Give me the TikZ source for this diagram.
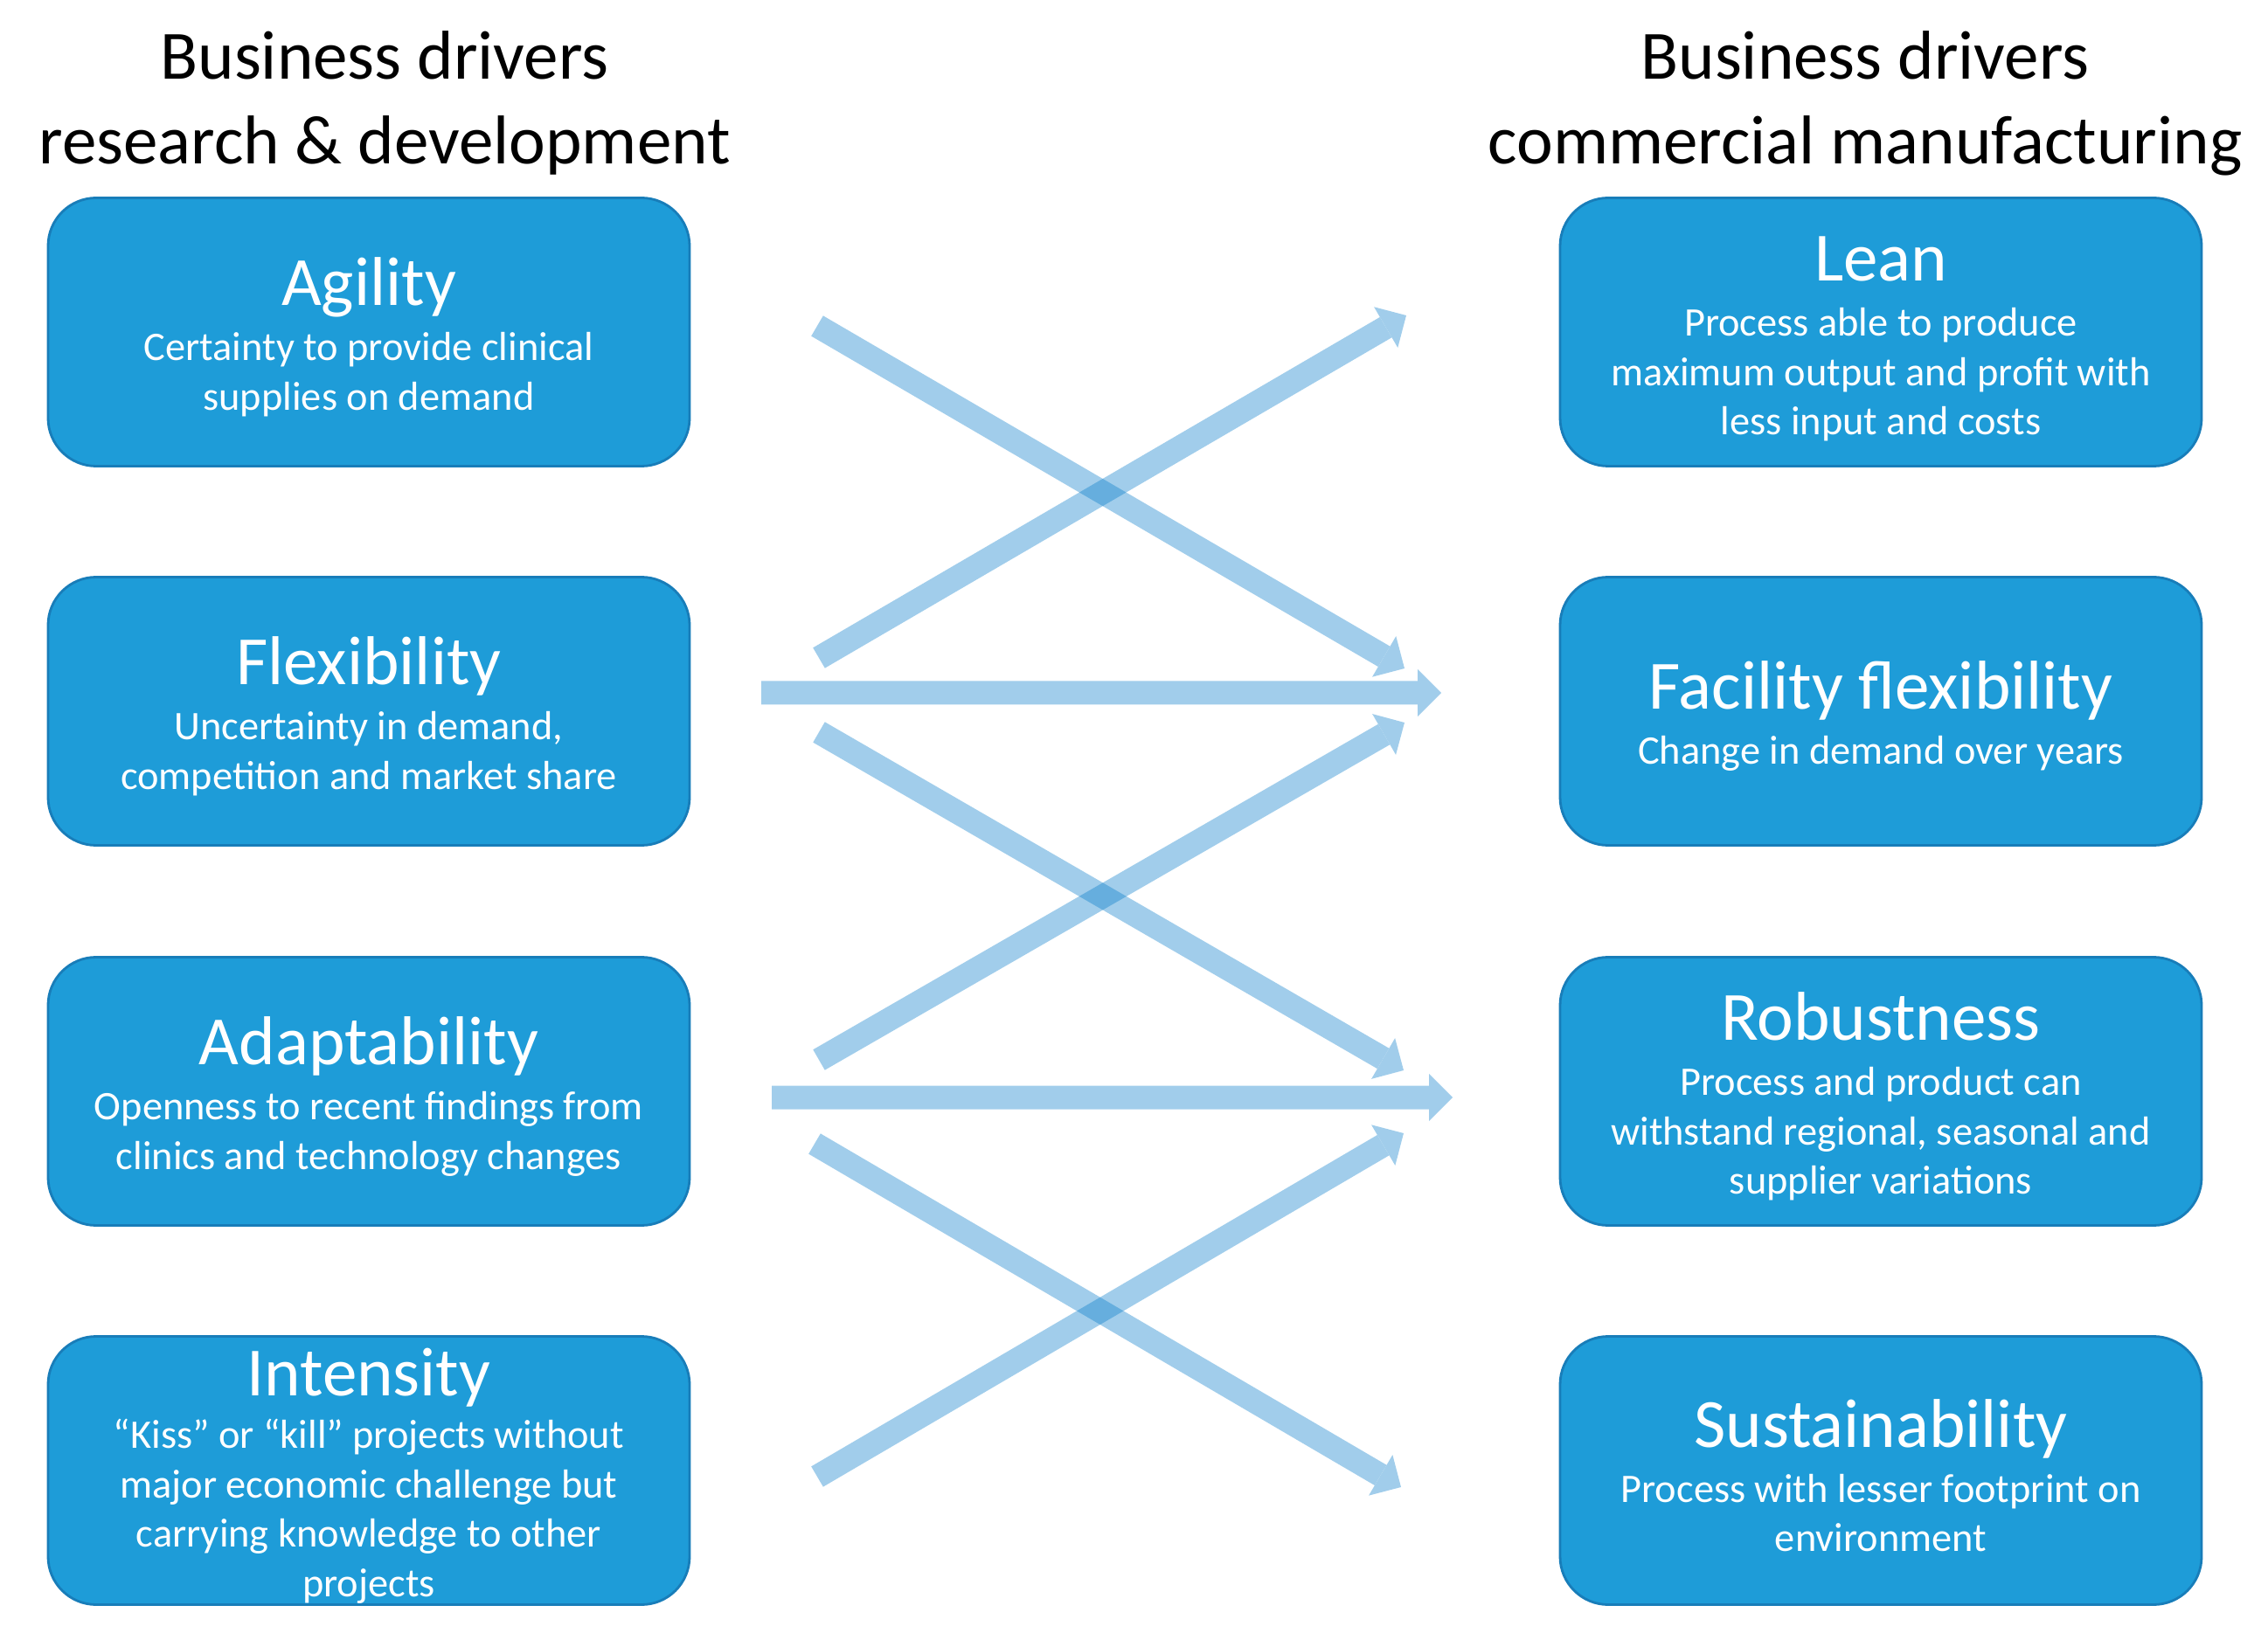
\documentclass[tikz,border=0pt]{standalone}
\usepackage{fontspec}
\setmainfont{Carlito}
\usetikzlibrary{arrows.meta}

\definecolor{drvblue}{RGB}{30,156,216}
\definecolor{drvedge}{RGB}{24,125,185}
\definecolor{drvarrow}{RGB}{0,120,200}

\newcommand{\drvtitlefont}{\fontsize{22.5}{27}\selectfont\rule{0pt}{19pt}}

\tikzset{
	driverbox/.style={draw=drvedge, line width=0.8pt, fill=drvblue, rounded corners=0.55cm,
		minimum width=7.34cm, minimum height=3.07cm, inner sep=0pt, text=white, align=center,
		font=\fontsize{13.2}{16.1}\selectfont},
	heading/.style={align=center, inner sep=0pt, font=\fontsize{22.5}{27.6}\selectfont},
	linkarrow/.style={draw=drvarrow, line width=0.27cm, line cap=butt,
		-{Triangle[width=0.54cm, length=0.27cm, line width=0pt]}},
}

\begin{document}
\begin{tikzpicture}
				\useasboundingbox (0,0) rectangle (25.95,18.84);
				\node[heading, anchor=base] (rdhead) at (4.40,16.96) {Business drivers\\research \& development};
				\node[heading, anchor=base] (cmhead) at (21.34,16.96) {Business drivers\\commercial manufacturing};
				\node[driverbox] (agility) at (4.22,15.04) {{\drvtitlefont Agility}\\[1.8pt]Certainty to provide clinical\\supplies on demand};
				\node[driverbox] (flexibility) at (4.22,10.70) {{\drvtitlefont Flexibility}\\[1.8pt]Uncertainty in demand,\\competition and market share};
				\node[driverbox] (adaptability) at (4.22,6.35) {{\drvtitlefont Adaptability}\\[1.8pt]Openness to recent findings from\\clinics and technology changes};
				\node[driverbox] (intensity) at (4.22,2.01) {{\drvtitlefont Intensity}\\[1.1pt]“Kiss” or “kill” projects without\\major economic challenge but\\carrying knowledge to other\\projects};
				\node[driverbox] (lean) at (21.52,15.04) {{\drvtitlefont Lean}\\[1.8pt]Process able to produce\\maximum output and profit with\\less input and costs};
				\node[driverbox] (facility) at (21.52,10.70) {{\drvtitlefont Facility flexibility}\\[1.8pt]Change in demand over years};
				\node[driverbox] (robustness) at (21.52,6.35) {{\drvtitlefont Robustness}\\[1.8pt]Process and product can\\withstand regional, seasonal and\\supplier variations};
				\node[driverbox] (sustainability) at (21.52,2.01) {{\drvtitlefont Sustainability}\\[1.8pt]Process with lesser footprint on\\environment};
				\coordinate (agility-out) at (9.35,15.11);
				\coordinate (facility-in-a) at (16.07,11.19);
				\coordinate (flex-out-up) at (9.37,11.31);
				\coordinate (lean-in) at (16.09,15.23);
				\coordinate (flex-out) at (8.71,10.91);
				\coordinate (facility-in-b) at (16.49,10.91);
				\coordinate (flex-out-down) at (9.37,10.46);
				\coordinate (robust-in-a) at (16.06,6.59);
				\coordinate (adapt-out-up) at (9.37,6.71);
				\coordinate (facility-in-c) at (16.07,10.57);
				\coordinate (adapt-out) at (8.83,6.28);
				\coordinate (robust-in-b) at (16.62,6.28);
				\coordinate (adapt-out-down) at (9.32,5.75);
				\coordinate (sustain-in) at (16.03,1.82);
				\coordinate (intensity-out) at (9.35,1.94);
				\coordinate (robust-in-c) at (16.06,5.87);
				\foreach \from/\to in {agility-out/facility-in-a, flex-out-up/lean-in, flex-out/facility-in-b,
					flex-out-down/robust-in-a, adapt-out-up/facility-in-c, adapt-out/robust-in-b,
					adapt-out-down/sustain-in, intensity-out/robust-in-c} {
					\begin{scope}[transparency group, opacity=0.37]
						\draw[linkarrow] (\from) -- (\to);
					\end{scope}
				}
\end{tikzpicture}
\end{document}
